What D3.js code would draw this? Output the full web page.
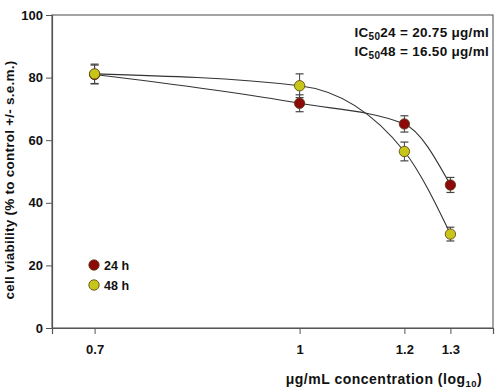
<!DOCTYPE html>
<html><head><meta charset="utf-8">
<script src="https://cdn.jsdelivr.net/npm/d3@7"></script>
<style>body{margin:0;background:#fff}svg{display:block}text{font-family:"Liberation Sans",Arial,sans-serif;font-weight:bold;fill:#111}</style>
</head><body>
<svg id="c" width="500" height="390"></svg>
<script>
const xValues = [0.7, 1, 1.2, 1.3];
const xTickLabels = ["0.7", "1", "1.2", "1.3"];
const seriesNames = ["24 h", "48 h"];
const values24 = [81.0, 71.8, 65.2, 45.7];
const errors24 = [3.0, 2.7, 2.6, 2.4];
const values48 = [81.2, 77.4, 56.4, 30.0];
const errors48 = [3.1, 3.8, 3.0, 2.2];
const yTicks = [0, 20, 40, 60, 80, 100];
const colors = ["#8c0a0a", "#c6c618"];

const svg = d3.select("#c");
const L = 52, R = 493, T = 15, B = 328;
const x = d3.scaleLog().domain([0.65, 1.4]).range([L, R]);
const y = d3.scaleLinear().domain([0, 100]).range([B, T]);

// frame
svg.append("rect").attr("x", L).attr("y", T).attr("width", R - L).attr("height", B - T)
  .attr("fill", "none").attr("stroke", "#666").attr("stroke-width", 1.2);

const yAxis = svg.append("g").attr("transform", `translate(${L},0)`)
  .call(d3.axisLeft(y).tickValues(yTicks).tickSize(6).tickPadding(3).tickFormat(d3.format("d")));
const xAxis = svg.append("g").attr("transform", `translate(0,${B})`)
  .call(d3.axisBottom(x).tickValues(xValues).tickSize(6).tickPadding(11).tickFormat((d, i) => xTickLabels[i]));
[yAxis, xAxis].forEach(g => {
  g.select(".domain").attr("stroke", "#555").attr("stroke-width", 1.2);
  g.selectAll(".tick line").attr("stroke", "#555");
  g.selectAll("text").attr("font-size", 13).attr("font-family", "Liberation Sans, Arial").attr("font-weight", "bold").attr("fill", "#111");
});

const series = [
  {name: seriesNames[0], vals: values24, errs: errors24, color: colors[0]},
  {name: seriesNames[1], vals: values48, errs: errors48, color: colors[1]}
];

const line = d3.line().x((d, i) => x(xValues[i])).y(d => y(d)).curve(d3.curveMonotoneX);
series.forEach(s => {
  svg.append("path").attr("d", line(s.vals)).attr("fill", "none").attr("stroke", "#333").attr("stroke-width", 1.1);
});
series.forEach(s => {
  const g = svg.append("g");
  s.vals.forEach((v, i) => {
    const cx = x(xValues[i]);
    const y1 = y(v + s.errs[i]), y2 = y(v - s.errs[i]);
    g.append("line").attr("x1", cx).attr("x2", cx).attr("y1", y1).attr("y2", y2).attr("stroke", "#444").attr("stroke-width", 1);
    [y1, y2].forEach(yy => g.append("line").attr("x1", cx - 4).attr("x2", cx + 4).attr("y1", yy).attr("y2", yy).attr("stroke", "#444").attr("stroke-width", 1.2));
  });
});
series.forEach(s => {
  svg.append("g").selectAll("circle").data(s.vals).join("circle")
    .attr("cx", (d, i) => x(xValues[i])).attr("cy", d => y(d)).attr("r", 5.2)
    .attr("fill", s.color).attr("stroke", "#5a3a10").attr("stroke-width", 0.8);
});

// legend
series.forEach((s, i) => {
  const ly = 265 + i * 20;
  svg.append("circle").attr("cx", 94).attr("cy", ly).attr("r", 5.2).attr("fill", s.color).attr("stroke", "#5a3a10").attr("stroke-width", 0.8);
  svg.append("text").attr("x", 104).attr("y", ly + 4.5).attr("font-size", 12.5).text(s.name);
});

// IC50 annotations
const ic = [["24", "20.75"], ["48", "16.50"]];
ic.forEach((d, i) => {
  const t = svg.append("text").attr("x", 489).attr("y", 37 + i * 19).attr("text-anchor", "end")
    .attr("font-size", 13.5).attr("letter-spacing", 0.3);
  t.append("tspan").text("IC");
  t.append("tspan").attr("font-size", 10).attr("dy", 3).text("50");
  t.append("tspan").attr("dy", -3).text(d[0] + " = " + d[1] + " μg/ml");
});

// axis titles
svg.append("text").attr("transform", "translate(14,180) rotate(-90)").attr("text-anchor", "middle")
  .attr("font-size", 13.5).attr("letter-spacing", 0.25).text("cell viability (% to control +/- s.e.m.)");
const xt = svg.append("text").attr("x", 384).attr("y", 384).attr("text-anchor", "middle")
  .attr("font-size", 14).attr("letter-spacing", 0.5);
xt.append("tspan").text("μg/mL concentration (log");
xt.append("tspan").attr("font-size", 9.5).attr("dy", 3).text("10");
xt.append("tspan").attr("dy", -3).text(")");
</script>
</body></html>
